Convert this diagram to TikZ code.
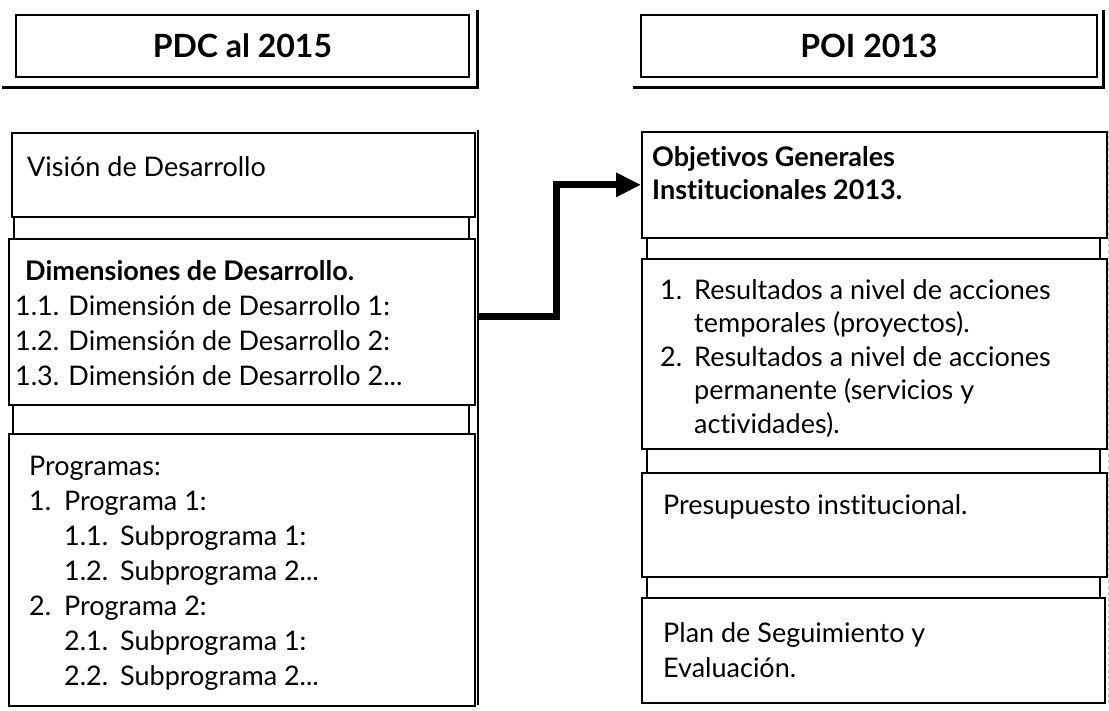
\documentclass[tikz,border=0pt]{standalone}
\usepackage{fontspec}
\setmainfont{Lato}[Ligatures={NoCommon}]
\usetikzlibrary{arrows.meta}
\begin{document}
\begin{tikzpicture}[x=1pt,y=-1pt,
  box/.style={draw,line width=1.6pt,inner sep=0pt,anchor=north west},
  head/.style={box,line width=1.8pt},
  shadowline/.style={line width=3pt},
  spacer/.style={line width=2pt},
  txt/.style={anchor=base west,inner sep=0pt,font=\fontsize{27}{33}\selectfont},
  btxt/.style={txt,font=\fontsize{27}{33}\selectfont\bfseries},
  htxt/.style={inner sep=0pt,font=\fontsize{32}{36}\selectfont\bfseries},
  conn/.style={line width=7pt,-{Triangle[length=25pt,width=23pt]}}]
\useasboundingbox (0,0) rectangle (1109,710);
% headers
\node[head,minimum width=453pt,minimum height=62pt] (h1) at (15,14) {};
\node[htxt] (h1t) at (h1.center) {PDC al 2015};
\draw[shadowline] (2,87) -- (477,87) -- (477,10);
\node[head,minimum width=456pt,minimum height=62pt] (h2) at (640,14) {};
\node[htxt] (h2t) at (h2.center) {POI 2013};
\draw[shadowline] (633,87) -- (1103,87) -- (1103,10);
% left column
\node[box,minimum width=463pt,minimum height=84pt] (vis) at (11,132) {};
\node[box,minimum width=466pt,minimum height=166pt] (dim) at (8,238) {};
\node[box,minimum width=466pt,minimum height=272pt] (pro) at (8,433) {};
\draw[spacer] (14,216) -- (14,238) (469,216) -- (469,238);
\draw[spacer] (13,404) -- (13,433) (469,404) -- (469,433);
\draw[line width=2pt] (478,130) -- (478,705);
\node[txt] (vist) at (27,176) {Visión de Desarrollo};
\node[btxt] (dimh) at (25,280) {Dimensiones de Desarrollo.};
\node[txt] (d1) at (15,315) {1.1. Dimensión de Desarrollo 1:};
\node[txt] (d2) at (15,350) {1.2. Dimensión de Desarrollo 2:};
\node[txt] (d3) at (15,385) {1.3. Dimensión de Desarrollo 2...};
\node[txt] (p0) at (29,475) {Programas:};
\node[txt] (p1n) at (29,510) {1.};
\node[txt] (p1) at (64,510) {Programa 1:};
\node[txt] (p11n) at (64,545) {1.1.};
\node[txt] (p11) at (120,545) {Subprograma 1:};
\node[txt] (p12n) at (64,580) {1.2.};
\node[txt] (p12) at (120,580) {Subprograma 2...};
\node[txt] (p2n) at (29,615) {2.};
\node[txt] (p2) at (64,615) {Programa 2:};
\node[txt] (p21n) at (64,650) {2.1.};
\node[txt] (p21) at (120,650) {Subprograma 1:};
\node[txt] (p22n) at (64,685) {2.2.};
\node[txt] (p22) at (120,685) {Subprograma 2...};
% right column
\node[box,minimum width=465pt,minimum height=106pt] (obj) at (641,131) {};
\node[box,minimum width=465pt,minimum height=190pt] (res) at (641,258) {};
\node[box,minimum width=465pt,minimum height=104pt] (pre) at (641,472) {};
\node[box,minimum width=463pt,minimum height=105pt] (pla) at (641,597) {};
\draw[spacer] (647,237) -- (647,258) (1100,237) -- (1100,258);
\draw[spacer] (647,448) -- (647,472) (1100,448) -- (1100,472);
\draw[spacer] (647,576) -- (647,597) (1100,576) -- (1100,597);
\draw[gray!50,line width=0.8pt,dashed] (1108,130) -- (1108,705);
\node[btxt] (o1) at (652,166) {Objetivos Generales};
\node[btxt] (o2) at (652,199) {Institucionales 2013.};
\node[txt] (r1n) at (660,299) {1.};
\node[txt] (r1) at (694,299) {Resultados a nivel de acciones};
\node[txt] (r1b) at (694,332) {temporales (proyectos).};
\node[txt] (r2n) at (660,366) {2.};
\node[txt] (r2) at (694,366) {Resultados a nivel de acciones};
\node[txt] (r2b) at (694,399) {permanente (servicios y};
\node[txt] (r2c) at (694,433) {actividades).};
\node[txt] (pret) at (663,514) {Presupuesto institucional.};
\node[txt] (pl1) at (663,642) {Plan de Seguimiento y};
\node[txt] (pl2) at (663,677) {Evaluación.};
% connector
\coordinate (as) at (478,316);
\draw[conn] (as) -- (556,316) |- (obj.west);
\end{tikzpicture}
\end{document}
